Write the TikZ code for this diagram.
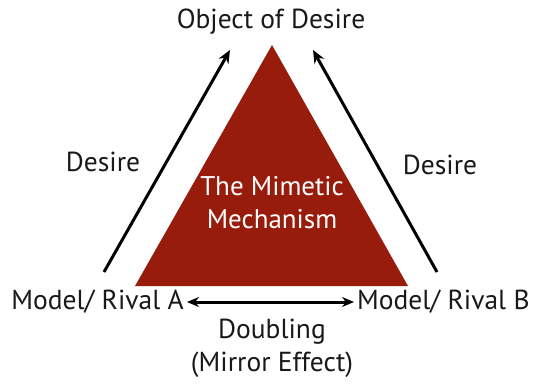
\documentclass[tikz,border=0pt]{standalone}
\usepackage{fontspec}
\setmainfont{PT Sans}
\usetikzlibrary{arrows.meta}
\definecolor{mimred}{RGB}{152,28,12}
\definecolor{txt}{RGB}{25,25,25}
\tikzset{
  lbl/.style={font=\fontsize{27.5}{30}\selectfont, text=txt, inner sep=0pt},
  inlbl/.style={font=\fontsize{27}{33}\selectfont, text=white, inner sep=0pt, align=center},
  arr/.style={line width=3pt, -{Stealth[length=13pt,width=11pt]}},
  darr/.style={line width=3pt, {Stealth[length=12pt,width=10pt]}-{Stealth[length=12pt,width=10pt]}}
}
\begin{document}
\begin{tikzpicture}[x=1pt,y=-1pt]
\useasboundingbox (0,0) rectangle (540,383);
% triangle
\coordinate (apex) at (272,45);
\coordinate (bl) at (135,286);
\coordinate (br) at (408,286);
\fill[mimred] (apex) -- (bl) -- (br) -- cycle;
\node[inlbl] (mech) at (272,203) {The Mimetic\\Mechanism};
% labels
\node[lbl] (obj) at (271,22) {Object of Desire};
\node[lbl] (dl) at (103,162) {Desire};
\node[lbl] (dr) at (440,165) {Desire};
\node[lbl, anchor=east] (ra) at (184,302) {Model/ Rival A};
\node[lbl, anchor=west] (rb) at (357,302) {Model/ Rival B};
\node[lbl] (dbl) at (272,332) {Doubling};
\node[lbl] (mir) at (272,365) {(Mirror Effect)};
% arrows
\coordinate (lt) at (104,272);
\coordinate (lh) at (230,50);
\coordinate (rt) at (437,272);
\coordinate (rh) at (313,50);
\draw[arr] (lt) -- (lh);
\draw[arr] (rt) -- (rh);
\draw[darr] ([xshift=3pt]ra.east) -- ([xshift=-3pt]rb.west);
\end{tikzpicture}
\end{document}
